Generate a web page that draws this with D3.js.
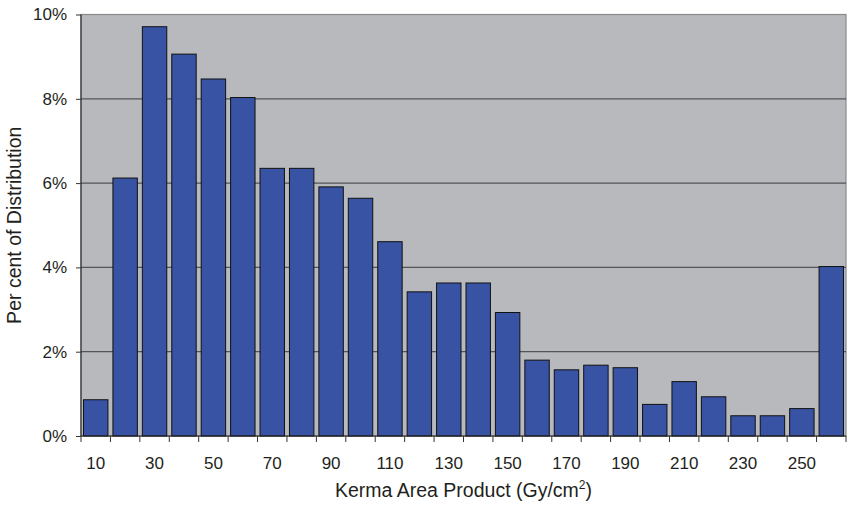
<!DOCTYPE html>
<html><head><meta charset="utf-8">
<script src="https://cdn.jsdelivr.net/npm/d3@7"></script>
<style>body{margin:0;background:#fff}svg{display:block}text{font-family:"Liberation Sans",Arial,sans-serif;fill:#231f20}</style>
</head><body>
<script>
const categories = [10,20,30,40,50,60,70,80,90,100,110,120,130,140,150,160,170,180,190,200,210,220,230,240,250,260];
const values = [0.86,6.12,9.71,9.06,8.47,8.03,6.35,6.35,5.91,5.64,4.61,3.42,3.63,3.63,2.93,1.80,1.57,1.68,1.62,0.75,1.29,0.93,0.48,0.48,0.65,4.02];
const yTicks = [0,2,4,6,8,10];
const xTickLabels = [10,30,50,70,90,110,130,150,170,190,210,230,250];
const xTitle = "Kerma Area Product (Gy/cm";
const yTitle = "Per cent of Distribution";

const W=849,H=508, m={l:81,r:3,t:14.5,b:72};
const svg=d3.select("body").append("svg").attr("width",W).attr("height",H);
const x=d3.scaleBand().domain(categories).range([m.l,W-m.r]).paddingInner(0.17).paddingOuter(0.085);
const y=d3.scaleLinear().domain([0,10]).range([H-m.b,m.t]);
const pw=W-m.r-m.l, ph=H-m.b-m.t;

svg.append("rect").attr("x",m.l).attr("y",m.t).attr("width",pw).attr("height",ph).attr("fill","#b8b9bd").attr("stroke","#8a8a8d").attr("stroke-width",1.2);
svg.append("g").selectAll("line").data(yTicks.filter(d=>d>0&&d<10)).join("line")
  .attr("x1",m.l).attr("x2",W-m.r).attr("y1",d=>y(d)).attr("y2",d=>y(d)).attr("stroke","#555558").attr("stroke-width",1.2);

svg.append("g").selectAll("rect").data(values).join("rect")
  .attr("x",(d,i)=>x(categories[i])).attr("width",x.bandwidth())
  .attr("y",d=>y(d)).attr("height",d=>y(0)-y(d))
  .attr("fill","#3853a4").attr("stroke","#111").attr("stroke-width",1);

// y axis
const ya=svg.append("g").attr("transform",`translate(${m.l},0)`)
  .call(d3.axisLeft(y).tickValues(yTicks).tickFormat(d=>d+"%").tickSize(5).tickPadding(9));
ya.select(".domain").attr("stroke","#333").attr("stroke-width",1.2).attr("d",`M0,${m.t}V${H-m.b}`);
ya.selectAll(".tick line").attr("stroke","#333");
ya.selectAll("text").attr("font-size",17).attr("fill","#231f20").attr("font-family","Liberation Sans, Arial, sans-serif");

// x axis: ticks at band boundaries
const xb=d3.scaleLinear().domain([0,categories.length]).range([m.l,W-m.r]);
const xa=svg.append("g").attr("transform",`translate(0,${H-m.b})`);
xa.append("line").attr("x1",m.l).attr("x2",W-m.r).attr("stroke","#222").attr("stroke-width",1.2);
xa.selectAll(".tk").data(d3.range(categories.length+1)).join("line").attr("class","tk")
  .attr("x1",d=>xb(d)).attr("x2",d=>xb(d)).attr("y1",0).attr("y2",6).attr("stroke","#333");
xa.selectAll("text").data(xTickLabels).join("text")
  .attr("x",d=>x(d)+x.bandwidth()/2).attr("y",33).attr("text-anchor","middle").attr("font-size",17).text(d=>d);

const t=svg.append("text").attr("x",m.l+pw/2).attr("y",497).attr("text-anchor","middle").attr("font-size",19.5);
t.append("tspan").text(xTitle);
t.append("tspan").attr("font-size",12).attr("dy",-8).text("2");
t.append("tspan").attr("dy",8).text(")");

svg.append("text").attr("transform",`translate(21,${m.t+ph/2}) rotate(-90)`).attr("text-anchor","middle").attr("font-size",19.5).text(yTitle);
</script>
</body></html>
